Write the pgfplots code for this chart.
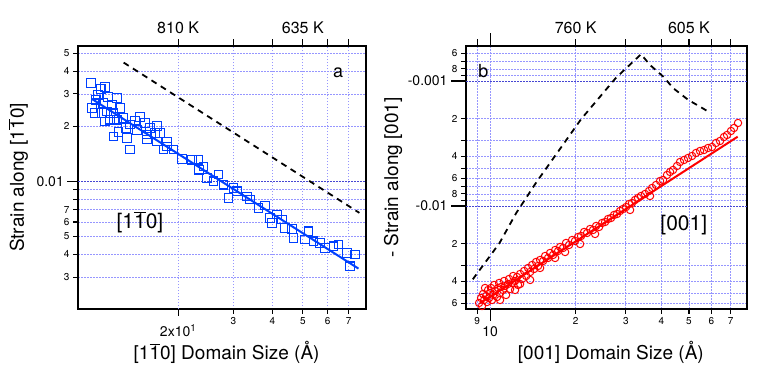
\documentclass[border=0pt]{standalone}
\usepackage{fontspec}
\setmainfont{TeX Gyre Heros}
\usepackage{pgfplots}
\pgfplotsset{compat=1.18}

\definecolor{sqblue}{RGB}{0,64,255}
\definecolor{gridlt}{RGB}{150,150,255}
\definecolor{griddk}{RGB}{70,70,210}
\newcommand\fs[1]{\fontsize{#1bp}{#1bp}\selectfont}
\newcommand\ob[1]{$\overline{\mbox{#1}}$}

\pgfplotsset{
  igor/.style={
    scale only axis, height=263bp,
    axis line style={line width=1.6bp},
    tick align=outside,
    every tick/.append style={black, line width=1.1bp},
    xtick pos=bottom, ytick pos=left,
    grid=major,
    major grid style={gridlt, dash pattern=on 1.5bp off 1.5bp, line width=0.7bp},
    tick label style={font=\fs{10}},
    xlabel style={font=\fs{19}, anchor=center},
    ylabel style={font=\fs{19}, anchor=center},
  },
  igortop/.style={
    scale only axis, height=263bp,
    axis y line=none, axis x line*=top,
    axis line style={line width=1.6bp},
    tick align=outside,
    every tick/.append style={black, line width=1.1bp},
    major tick length=6.7bp,
    tick label style={font=\fs{16}, yshift=2bp},
  },
}

\begin{document}
\begin{tikzpicture}
\path[use as bounding box] (0,0) rectangle (763bp,371bp);

% ---------- panel a ----------
\begin{axis}[igor, xmode=log, ymode=log,
  at={(78bp,62bp)}, anchor=south west, width=288bp,
  xmin=9.58, xmax=79.6, ymin=0.00201, ymax=0.0548,
  xtick={30,40,50,60,70}, xticklabels={3,4,5,6,7},
  major tick length=5bp,
  extra x ticks={20}, extra x tick labels={2x10\textsuperscript{1}},
  extra x tick style={major tick length=6.7bp,
    tick label style={font=\fs{14}, yshift=-5bp}},
  ytick={0.003,0.004,0.005,0.006,0.007,0.008,0.009,0.02,0.03,0.04,0.05},
  yticklabels={3,4,5,6,7,,,2,3,4,5},
  extra y ticks={0.01}, extra y tick labels={0.01},
  extra y tick style={major tick length=10.7bp,
    major grid style={griddk, dash pattern=on 1.5bp off 1.5bp, line width=0.9bp},
    tick label style={font=\fs{14}}},
  xlabel={[1\ob{1}0] Domain Size (Å)},
  xlabel style={at={(axis description cs:0.516,-0.1635)}},
  ylabel={Strain along [1\ob{1}0]},
  ylabel style={at={(axis description cs:-0.208,0.5)}},
]
\addplot[black, line width=1.8bp, dash pattern=on 6bp off 5bp]
  coordinates {(13.4,0.0445) (75.8,0.00673)};
\addplot[only marks, mark=square, mark size=4.3bp,
  mark options={draw=sqblue, line width=1.1bp, fill=none}]
  coordinates {
  (10.54,0.0344)(11.69,0.0327)(11.32,0.0320)(10.91,0.0279)(12.74,0.0285)
  (11.54,0.0267)(12.28,0.0262)(10.86,0.0236)(11.84,0.0241)(12.43,0.0236)
  (13.37,0.0222)(11.69,0.0212)(12.74,0.0217)(14.58,0.0215)(15.69,0.0208)
  (17.10,0.0201)(14.05,0.0204)(14.76,0.0191)(12.89,0.0186)(12.43,0.0176)
  (13.71,0.0172)(15.89,0.0180)(16.88,0.0184)(14.05,0.0149)(15.89,0.0169)
  (17.10,0.0165)(18.40,0.0165)(18.40,0.0155)(17.95,0.0149)(19.32,0.0149)
  (20.55,0.01325)(22.13,0.01313)(23.22,0.01313)(24.09,0.01207)(11.41,0.0236)
  (12.13,0.0217)(23.34,0.01158)(24.70,0.01043)(26.90,0.01088)(25.94,0.0100)
  (27.91,0.00959)(30.05,0.00921)(28.96,0.00812)(30.81,0.00882)(33.16,0.00828)
  (33.96,0.00795)(36.10,0.00716)(37.93,0.00737)(39.35,0.00632)(41.34,0.00659)
  (39.85,0.00593)(42.89,0.00619)(43.95,0.00557)(46.17,0.00550)(46.72,0.00491)
  (52.16,0.00534)(50.91,0.00481)(54.11,0.00471)(56.84,0.00462)(58.96,0.00434)
  (62.70,0.00442)(65.04,0.00452)(69.18,0.00407)(73.53,0.00399)(70.87,0.00344)
  (11.95,0.0289)(13.05,0.0252)(11.10,0.0297)(15.12,0.0225)(16.27,0.0196)
  (17.52,0.0184)(13.64,0.0196)(10.62,0.0252)
  };
\addplot[sqblue, line width=2bp] coordinates {(10.6,0.0282) (75.3,0.00334)};
\node[font=\fs{18}] at (rel axis cs:0.903,0.898) {a};
\node[font=\fs{21}] at (rel axis cs:0.215,0.331) {[1\ob{1}0]};
\end{axis}
\begin{axis}[igortop, xmode=log,
  at={(78bp,62bp)}, anchor=south west, width=288bp,
  xmin=9.58, xmax=79.6, ymin=0, ymax=1,
  xtick={20,30,40,50,60,70}, xticklabels={810 K,,,635 K,,},
]
\end{axis}

% ---------- panel b ----------
\begin{axis}[igor, xmode=log, ymode=log,
  at={(466bp,62bp)}, anchor=south west, width=280.7bp,
  xmin=8.23, xmax=79.8, ymin=0.000525, ymax=0.0667, y dir=reverse,
  xtick={9,20,30,40,50,60,70}, xticklabels={9,2,3,4,5,6,7},
  major tick length=5bp,
  extra x ticks={10}, extra x tick labels={10},
  extra x tick style={major tick length=11.7bp,
    tick label style={font=\fs{14}, yshift=-2bp}},
  ytick={0.0006,0.0007,0.0008,0.0009,0.002,0.003,0.004,0.005,0.006,0.007,0.008,0.009,0.02,0.03,0.04,0.05,0.06},
  yticklabels={6,,8,,2,,4,,6,,8,,2,,4,,6},
  extra y ticks={0.001,0.01}, extra y tick labels={-0.001,-0.01},
  extra y tick style={major tick length=15bp,
    major grid style={griddk, dash pattern=on 1.5bp off 1.5bp, line width=0.9bp},
    tick label style={font=\fs{14}}},
  xlabel={[001] Domain Size (Å)},
  xlabel style={at={(axis description cs:0.516,-0.1635)}},
  ylabel={- Strain along [001]},
  ylabel style={at={(axis description cs:-0.26,0.5)}},
]
\addplot[black, line width=1.8bp, dash pattern=on 6bp off 5bp]
  coordinates {(8.695,0.0386) (10.78,0.0199) (12.34,0.01144) (14.51,0.00651)
  (20.87,0.002025) (27.72,0.000941) (33.93,0.000611) (36.49,0.000745)
  (40.63,0.000924) (44.07,0.001144) (49.75,0.001419) (54.69,0.001606)
  (59.29,0.001793)};
\addplot[only marks, mark=o, mark size=3.7bp,
  mark options={draw=red, line width=1bp}]
  coordinates {
  (9.149,0.05970)(9.30,0.05445)(9.37,0.06310)(9.45,0.05058)(9.53,0.05649)
  (9.68,0.05248)(9.76,0.05861)(9.84,0.04699)(9.92,0.05445)(10.00,0.04966)
  (10.08,0.04529)(10.16,0.05649)(10.25,0.05152)(10.33,0.04285)(10.41,0.04786)
  (10.58,0.05346)(10.67,0.04529)(10.76,0.04130)(10.84,0.04966)(10.93,0.04446)
  (11.11,0.04699)(11.20,0.03981)(11.29,0.04365)(11.38,0.05152)(11.57,0.04207)
  (11.66,0.03837)(11.76,0.04613)(11.95,0.04130)(12.05,0.03631)(12.24,0.03981)
  (12.44,0.03698)(12.54,0.04285)(12.75,0.03499)(12.96,0.03837)(13.17,0.03311)
  (13.39,0.03631)(13.60,0.03133)(13.83,0.03373)(14.05,0.02965)(14.28,0.03192)
  (14.51,0.02805)(14.75,0.03020)(14.99,0.02704)(15.36,0.02754)(15.61,0.02512)
  (15.99,0.02606)(16.25,0.02377)(16.65,0.02466)(16.93,0.02249)(17.34,0.02291)
  (17.62,0.02128)(18.05,0.02168)(18.49,0.01977)(18.95,0.02051)(19.42,0.01871)
  (19.89,0.01905)(20.38,0.01770)(20.88,0.01738)(21.40,0.01614)(21.92,0.01644)
  (22.46,0.01528)(23.01,0.01556)(23.58,0.01445)(24.16,0.01472)(24.75,0.01368)
  (25.36,0.01343)(25.98,0.01271)(26.62,0.01247)(27.27,0.01180)(27.94,0.01159)
  (28.63,0.01096)(29.33,0.01057)(30.05,0.01019)(30.79,0.009638)(31.54,0.009462)
  (32.32,0.008954)(33.11,0.008630)(33.93,0.008318)(35.04,0.008017)(36.20,0.007586)
  (37.09,0.007178)(38.31,0.006792)(39.57,0.006310)(40.54,0.006194)(41.87,0.005649)
  (42.91,0.005346)(43.95,0.005152)(45.40,0.004786)(46.51,0.004446)(48.04,0.004285)
  (49.62,0.004130)(51.26,0.003981)(52.94,0.003767)(54.69,0.003631)(56.48,0.003565)
  (58.35,0.003436)(60.26,0.003373)(62.24,0.003133)(64.30,0.003020)(66.40,0.002805)
  (68.03,0.002704)(70.27,0.002512)(71.99,0.002377)(74.37,0.002168)
  (16.93,0.02606)(18.35,0.02335)(20.72,0.02014)(23.39,0.01675)(13.83,0.03908)
  (12.24,0.04699)(10.84,0.05649)(9.60,0.04529)(12.75,0.04207)(14.99,0.03133)
  (31.05,0.01076)(36.49,0.008318)
  };
\addplot[red, line width=2bp] coordinates {(9.22,0.05993) (74.18,0.00279)};
\node[font=\fs{18}] at (rel axis cs:0.062,0.905) {b};
\node[font=\fs{21}] at (rel axis cs:0.776,0.319) {[001]};
\end{axis}
\begin{axis}[igortop, xmode=log,
  at={(466bp,62bp)}, anchor=south west, width=280.7bp,
  xmin=8.23, xmax=79.8, ymin=0, ymax=1,
  xtick={9,20,30,40,50,60,70}, xticklabels={,760 K,,,605 K,,},
  extra x ticks={10}, extra x tick labels={},
  extra x tick style={major tick length=12.7bp},
]
\end{axis}
\end{tikzpicture}
\end{document}
